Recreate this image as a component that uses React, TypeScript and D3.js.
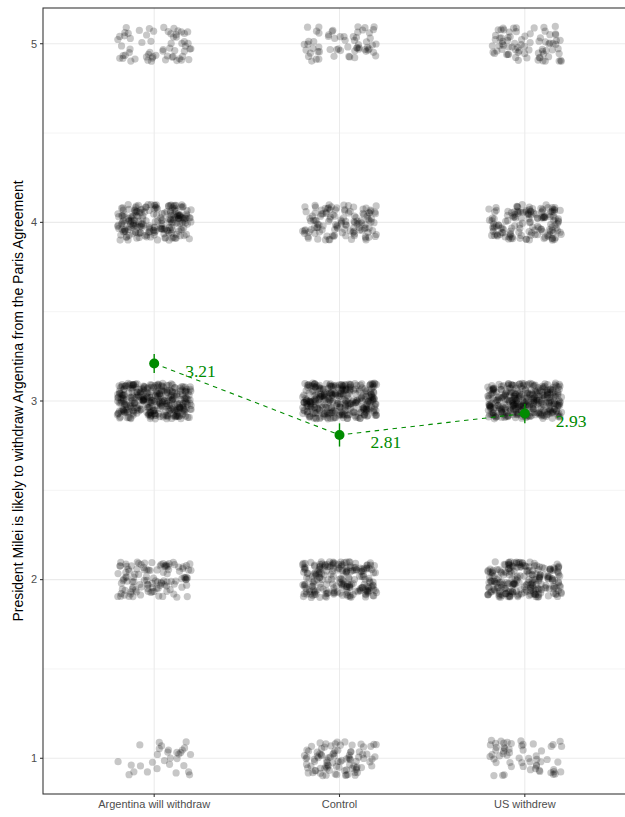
import React from "react";
import * as d3 from "d3";

const categories = ["Argentina will withdraw", "Control", "US withdrew"];
const levels = [1, 2, 3, 4, 5];
// number of responses per level (1..5) for each category
const countsArgentina = [30, 115, 330, 210, 62];
const countsControl = [95, 215, 330, 125, 62];
const countsUS = [58, 230, 340, 150, 78];
const meanValues = [3.21, 2.81, 2.93];
const ciLow = [3.157, 2.745, 2.875];
const ciHigh = [3.263, 2.875, 2.985];
const meanLabels = ["3.21", "2.81", "2.93"];
const yTicks = [1, 2, 3, 4, 5];
const yMinor = [1.5, 2.5, 3.5, 4.5];
const yTitle = "President Milei is likely to withdraw Argentina from the Paris Agreement";

const W = 625;
const H = 817;
const panel = { left: 43, top: 8, right: 636, bottom: 794 };
const green = "#008B00";

// deterministic jitter generator (layout only)
function mulberry32(a: number) {
  return function () {
    a |= 0;
    a = (a + 0x6d2b79f5) | 0;
    let t = Math.imul(a ^ (a >>> 15), 1 | a);
    t = (t + Math.imul(t ^ (t >>> 7), 61 | t)) ^ t;
    return ((t ^ (t >>> 14)) >>> 0) / 4294967296;
  };
}

export default function App() {
  const x = d3.scaleLinear().domain([0.4, 3.6]).range([panel.left, panel.right]);
  const y = d3.scaleLinear().domain([0.8, 5.2]).range([panel.bottom, panel.top]);
  const allCounts = [countsArgentina, countsControl, countsUS];

  const rnd = mulberry32(20240517);
  const pts: { cx: number; cy: number }[] = [];
  allCounts.forEach((counts, ci) => {
    counts.forEach((n, li) => {
      for (let k = 0; k < n; k++) {
        const jx = (rnd() * 2 - 1) * 0.2;
        const jy = (rnd() * 2 - 1) * 0.1;
        pts.push({ cx: x(ci + 1 + jx), cy: y(levels[li] + jy) });
      }
    });
  });

  const line = d3
    .line<number>()
    .x((_, i) => x(i + 1))
    .y((d) => y(d));

  return (
    <svg width={W} height={H} style={{ position: "absolute", left: 0, top: 0, background: "#fff" }}>
      <defs>
        <clipPath id="pc">
          <rect x={panel.left} y={panel.top} width={panel.right - panel.left} height={panel.bottom - panel.top} />
        </clipPath>
      </defs>
      <rect x={0} y={0} width={W} height={H} fill="#fff" />
      {/* grid */}
      <g>
        {yMinor.map((t) => (
          <line key={"mi" + t} x1={panel.left} x2={panel.right} y1={y(t)} y2={y(t)} stroke="#ebebeb" strokeWidth={0.55} />
        ))}
        {yTicks.map((t) => (
          <line key={"ma" + t} x1={panel.left} x2={panel.right} y1={y(t)} y2={y(t)} stroke="#ebebeb" strokeWidth={1.07} />
        ))}
        {categories.map((c, i) => (
          <line key={"vx" + c} x1={x(i + 1)} x2={x(i + 1)} y1={panel.top} y2={panel.bottom} stroke="#ebebeb" strokeWidth={1.07} />
        ))}
      </g>
      {/* jittered points */}
      <g clipPath="url(#pc)">
        {pts.map((p, i) => (
          <circle key={i} cx={p.cx} cy={p.cy} r={3.6} fill="#000" fillOpacity={0.22} />
        ))}
      </g>
      {/* means */}
      <path d={line(meanValues) || ""} fill="none" stroke={green} strokeWidth={1.1} strokeDasharray="4.5,4.5" />
      {meanValues.map((m, i) => (
        <g key={"m" + i}>
          <line x1={x(i + 1)} x2={x(i + 1)} y1={y(ciLow[i])} y2={y(ciHigh[i])} stroke={green} strokeWidth={1.4} />
          <circle cx={x(i + 1)} cy={y(m)} r={5} fill={green} />
          <text
            x={x(i + 1 + 0.25)}
            y={y(m - 0.04)}
            dy="0.35em"
            textAnchor="middle"
            fill={green}
            fontFamily="'Liberation Serif', 'Times New Roman', serif"
            fontSize={17.5}
          >
            {meanLabels[i]}
          </text>
        </g>
      ))}
      {/* panel border */}
      <rect
        x={panel.left}
        y={panel.top}
        width={panel.right - panel.left}
        height={panel.bottom - panel.top}
        fill="none"
        stroke="#333333"
        strokeWidth={1.07}
      />
      {/* axes */}
      <g fontFamily="'Liberation Sans', Arial, sans-serif" fontSize={11} fill="#4d4d4d">
        {yTicks.map((t) => (
          <g key={"yt" + t}>
            <line x1={panel.left - 3} x2={panel.left} y1={y(t)} y2={y(t)} stroke="#333333" strokeWidth={1.07} />
            <text x={panel.left - 6} y={y(t)} dy="0.35em" textAnchor="end">
              {t}
            </text>
          </g>
        ))}
        {categories.map((c, i) => (
          <g key={"xt" + c}>
            <line x1={x(i + 1)} x2={x(i + 1)} y1={panel.bottom} y2={panel.bottom + 3} stroke="#333333" strokeWidth={1.07} />
            <text x={x(i + 1)} y={panel.bottom + 14} textAnchor="middle">
              {c}
            </text>
          </g>
        ))}
      </g>
      <text
        transform={`translate(23, ${(panel.top + panel.bottom) / 2}) rotate(-90)`}
        textAnchor="middle"
        fontFamily="'Liberation Sans', Arial, sans-serif"
        fontSize={14}
        fill="#000"
      >
        {yTitle}
      </text>
    </svg>
  );
}
